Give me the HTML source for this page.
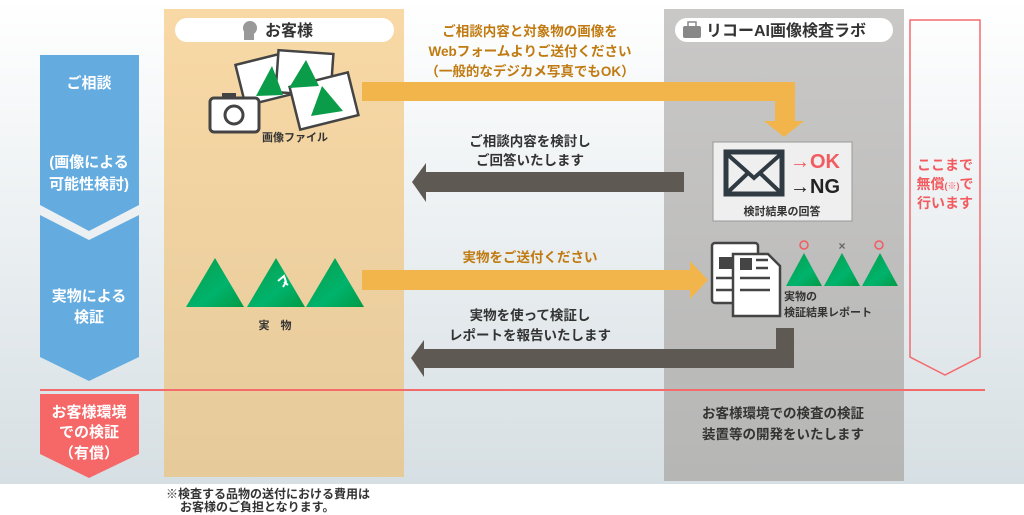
<!DOCTYPE html>
<html><head><meta charset="utf-8"><style>
html,body{margin:0;padding:0;width:1024px;height:515px;overflow:hidden;background:#fff}
svg text{font-family:"Liberation Sans","Noto Sans CJK JP",sans-serif;font-weight:bold}
</style></head><body>
<svg width="1024" height="515" viewBox="0 0 1024 515" xmlns="http://www.w3.org/2000/svg">
<defs>
<linearGradient id="bg" x1="0" y1="0" x2="0" y2="1"><stop offset="0" stop-color="#ffffff"/><stop offset="1" stop-color="#d6dfe3"/></linearGradient>
<linearGradient id="cu" x1="0" y1="0" x2="0" y2="1"><stop offset="0" stop-color="#f8d9a6"/><stop offset="1" stop-color="#e6ca9a"/></linearGradient>
<linearGradient id="lab" x1="0" y1="0" x2="0" y2="1"><stop offset="0" stop-color="#c9c8c7"/><stop offset="1" stop-color="#b6b6b5"/></linearGradient>
<linearGradient id="tri" x1="0" y1="0" x2="1" y2="1"><stop offset="0" stop-color="#0a9c48"/><stop offset="0.6" stop-color="#00b36c"/><stop offset="1" stop-color="#029a45"/></linearGradient>
</defs>
<rect x="0" y="0" width="1024" height="484" fill="url(#bg)"/>
<rect x="164" y="9" width="240" height="468" fill="url(#cu)"/>
<rect x="664" y="9" width="240" height="472" fill="url(#lab)"/>
<polygon points="40,55 139,55 139,205 89,231 40,205" fill="#64ace0"/>
<polygon points="40,215 89,240 139,215 139,357 89,381 40,357" fill="#64ace0"/>
<polygon points="40,394 139,394 139,454 89,478 40,454" fill="#f66768"/>
<line x1="40" y1="390" x2="985" y2="390" stroke="#f36b6b" stroke-width="2"/>
<polygon points="910,20 980,20 980,357 945,375 910,357" fill="none" stroke="#f46a6e" stroke-width="1.5"/>
<g fill="#fff" font-size="15" text-anchor="middle">
<text x="89" y="88">ご相談</text>
<text x="89" y="167">(画像による</text>
<text x="89" y="189">可能性検討)</text>
<text x="89" y="301">実物による</text>
<text x="89" y="322">検証</text>
<text x="89" y="417">お客様環境</text>
<text x="89" y="437">での検証</text>
<text x="89" y="458">（有償）</text>
</g>
<g fill="#f25b60" font-size="14" text-anchor="middle">
<text x="945" y="170">ここまで</text>
<text x="945" y="189">無償<tspan font-size="9">(※)</tspan>で</text>
<text x="945" y="208">行います</text>
</g>
<rect x="175" y="18" width="219" height="24" rx="12" fill="#fff"/>
<circle cx="250" cy="28" r="7" fill="#999"/><rect x="244" y="30" width="10" height="10" fill="#999"/>
<text x="265" y="36" font-size="16" fill="#333">お客様</text>
<rect x="675" y="18" width="218" height="24" rx="12" fill="#fff"/>
<rect x="683" y="26" width="18" height="12" rx="2" fill="#888"/><rect x="688" y="22" width="8" height="5" fill="none" stroke="#888" stroke-width="1.5"/>
<text x="706" y="36" font-size="16" fill="#333">リコーAI画像検査ラボ</text>
<polygon points="362,82 795,82 795,121 804,121 784,137 764,121 775,121 775,101 362,101" fill="#f1b54b"/>
<polygon points="684,172 426,172 426,163 412,182 426,202 426,192 684,192" fill="#5e5a53"/>
<polygon points="362,270 690,270 690,261 708,280 690,299 690,290 362,290" fill="#f1b54b"/>
<polygon points="794,328 776,328 776,349 424,349 424,340 411,358 424,377 424,368 794,368" fill="#5e5a53"/>
<g font-size="13.5" text-anchor="middle">
<text x="530" y="36" fill="#c07a10">ご相談内容と対象物の画像を</text>
<text x="530" y="56" fill="#c07a10">Webフォームよりご送付ください</text>
<text x="530" y="76" fill="#c07a10">（一般的なデジカメ写真でもOK）</text>
<text x="530" y="146" fill="#333">ご相談内容を検討し</text>
<text x="530" y="165" fill="#333">ご回答いたします</text>
<text x="530" y="262" fill="#c07a10">実物をご送付ください</text>
<text x="530" y="320" fill="#333">実物を使って検証し</text>
<text x="530" y="340" fill="#333">レポートを報告いたします</text>
<text x="783" y="418" fill="#333">お客様環境での検査の検証</text>
<text x="783" y="439" fill="#333">装置等の開発をいたします</text>
</g>
<g stroke="#444" stroke-width="2.5">
<rect x="240" y="58" width="52" height="42" fill="#fff" transform="rotate(-14 266 80)"/>
<rect x="277" y="52" width="55" height="42" fill="#fff" transform="rotate(4 304 73)"/>
<rect x="294" y="79" width="60" height="44" fill="#fff" transform="rotate(-14 324 101)"/>
</g>
<polygon points="256,96 272,66 283,95" fill="#0a9c48"/>
<polygon points="289,88 306,60 319,86" fill="#0a9c48"/>
<polygon points="311,116 322,86 343,111" fill="#0a9c48"/>
<rect x="210" y="98" width="49" height="34" rx="4" fill="#fff" stroke="#444" stroke-width="3"/>
<rect x="222" y="93" width="14" height="6" fill="#444"/>
<circle cx="234" cy="115" r="9" fill="none" stroke="#444" stroke-width="3"/>
<text x="295" y="141" font-size="11" fill="#333" text-anchor="middle">画像ファイル</text>
<polygon points="186,307 215,258 244,307" fill="url(#tri)"/>
<polygon points="247,307 276,258 305,307" fill="url(#tri)"/>
<polygon points="306,307 335,258 364,307" fill="url(#tri)"/>
<path d="M278,281 l6,-5 l2,6 l-3,5 M284,282 l4,3" stroke="#fff" stroke-width="2" fill="none"/>
<text x="275" y="329" font-size="11" fill="#333" text-anchor="middle">実　物</text>
<rect x="713" y="142" width="139" height="79" fill="#efefef" stroke="#999" stroke-width="1"/>
<rect x="726" y="152" width="56" height="42" fill="none" stroke="#2f3a42" stroke-width="5"/>
<path d="M727,154 L754,178 L781,154 M727,193 L747,174 M781,193 L761,174" stroke="#2f3a42" stroke-width="4" fill="none"/>
<text x="790" y="168" font-size="20" fill="#f25b60" font-weight="normal">→OK</text>
<text x="790" y="193" font-size="20" fill="#222" font-weight="normal">→NG</text>
<text x="782" y="215" font-size="11" fill="#333" text-anchor="middle">検討結果の回答</text>
<rect x="712" y="243" width="46" height="60" rx="3" fill="#fff" stroke="#444" stroke-width="2.5"/>
<path d="M733,254 h35 l12,12 v50 h-47 z" fill="#fff" stroke="#444" stroke-width="2.5"/>
<rect x="719" y="257" width="14" height="12" fill="#444"/>
<rect x="740" y="258" width="12" height="12" fill="#444"/>
<path d="M756,260 h12 M756,268 h12 M740,278 h30 M740,290 h30 M716,278 h16 M716,290 h16" stroke="#444" stroke-width="2.5"/>
<polygon points="786,286 804,253 822,286" fill="url(#tri)"/>
<polygon points="824,286 842,253 860,286" fill="url(#tri)"/>
<polygon points="862,286 880,253 898,286" fill="url(#tri)"/>
<circle cx="804" cy="245" r="4" fill="none" stroke="#f25b60" stroke-width="1.5"/>
<text x="842" y="250" font-size="12" fill="#666" text-anchor="middle" font-weight="normal">×</text>
<circle cx="879" cy="245" r="4" fill="none" stroke="#f25b60" stroke-width="1.5"/>
<text x="784" y="300" font-size="11" fill="#333">実物の</text>
<text x="784" y="316" font-size="11" fill="#333">検証結果レポート</text>
<text x="166" y="498" font-size="12" fill="#333">※検査する品物の送付における費用は</text>
<text x="180" y="511" font-size="12" fill="#333">お客様のご負担となります。</text>
</svg>
</body></html>
